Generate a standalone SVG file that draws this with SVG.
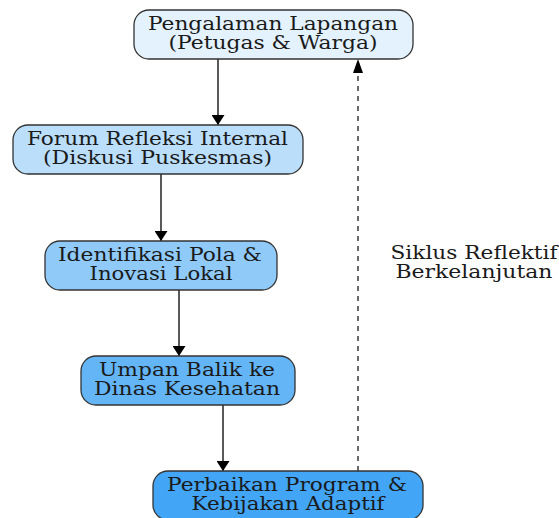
<svg xmlns="http://www.w3.org/2000/svg" width="559" height="518" viewBox="0 0 559 518">
<style>
.n rect{stroke:#333333;stroke-width:1.3}
text{font-family:"DejaVu Serif",serif;font-size:18.5px;fill:#1a1a1a;text-anchor:middle}
.e{stroke:#000;stroke-width:1.3;fill:none}
.d{stroke:#444;stroke-width:1.6;fill:none;stroke-dasharray:5,5}
</style>
<defs>
<marker id="ah" markerWidth="10" markerHeight="13" refX="10" refY="6.5" orient="auto" markerUnits="userSpaceOnUse" viewBox="0 0 10 13">
<path d="M0,0 L10,6.5 L0,13 Z" fill="#000"/>
</marker>
</defs>
<rect width="559" height="518" fill="#fff"/>
<g id="edges">
<line class="e" x1="218" y1="59" x2="218" y2="125" marker-end="url(#ah)"/>
<line class="e" x1="161" y1="174" x2="161" y2="241" marker-end="url(#ah)"/>
<line class="e" x1="179" y1="290" x2="179" y2="356" marker-end="url(#ah)"/>
<line class="e" x1="223" y1="405" x2="223" y2="471" marker-end="url(#ah)"/>
<line class="d" x1="358" y1="471" x2="358" y2="72"/>
<path d="M353,73 L358,59 L363,73 Z" fill="#000"/>
<text x="474" y="259" textLength="167" lengthAdjust="spacingAndGlyphs">Siklus Reflektif</text>
<text x="474" y="278" textLength="157" lengthAdjust="spacingAndGlyphs">Berkelanjutan</text>
</g>
<g id="n1" class="n">
<rect x="134" y="10" width="279" height="49" rx="15" fill="#E3F2FD"/>
<text x="273" y="30" textLength="250" lengthAdjust="spacingAndGlyphs">Pengalaman Lapangan</text>
<text x="273" y="49" textLength="209" lengthAdjust="spacingAndGlyphs">(Petugas &amp; Warga)</text>
</g>
<g id="n2" class="n">
<rect x="13" y="125" width="290" height="49" rx="15" fill="#BBDEFB"/>
<text x="157.5" y="145" textLength="261" lengthAdjust="spacingAndGlyphs">Forum Refleksi Internal</text>
<text x="157.5" y="164" textLength="229" lengthAdjust="spacingAndGlyphs">(Diskusi Puskesmas)</text>
</g>
<g id="n3" class="n">
<rect x="45" y="241" width="232" height="49" rx="15" fill="#90CAF9"/>
<text x="160" y="261" textLength="204" lengthAdjust="spacingAndGlyphs">Identifikasi Pola &amp;</text>
<text x="161" y="280" textLength="143" lengthAdjust="spacingAndGlyphs">Inovasi Lokal</text>
</g>
<g id="n4" class="n">
<rect x="81" y="356" width="214" height="49" rx="15" fill="#64B5F6"/>
<text x="187" y="376" textLength="176" lengthAdjust="spacingAndGlyphs">Umpan Balik ke</text>
<text x="187" y="395" textLength="186" lengthAdjust="spacingAndGlyphs">Dinas Kesehatan</text>
</g>
<g id="n5" class="n">
<rect x="153" y="471" width="270" height="49" rx="15" fill="#42A5F5"/>
<text x="287" y="491" textLength="240" lengthAdjust="spacingAndGlyphs">Perbaikan Program &amp;</text>
<text x="288" y="510" textLength="193" lengthAdjust="spacingAndGlyphs">Kebijakan Adaptif</text>
</g>
</svg>
